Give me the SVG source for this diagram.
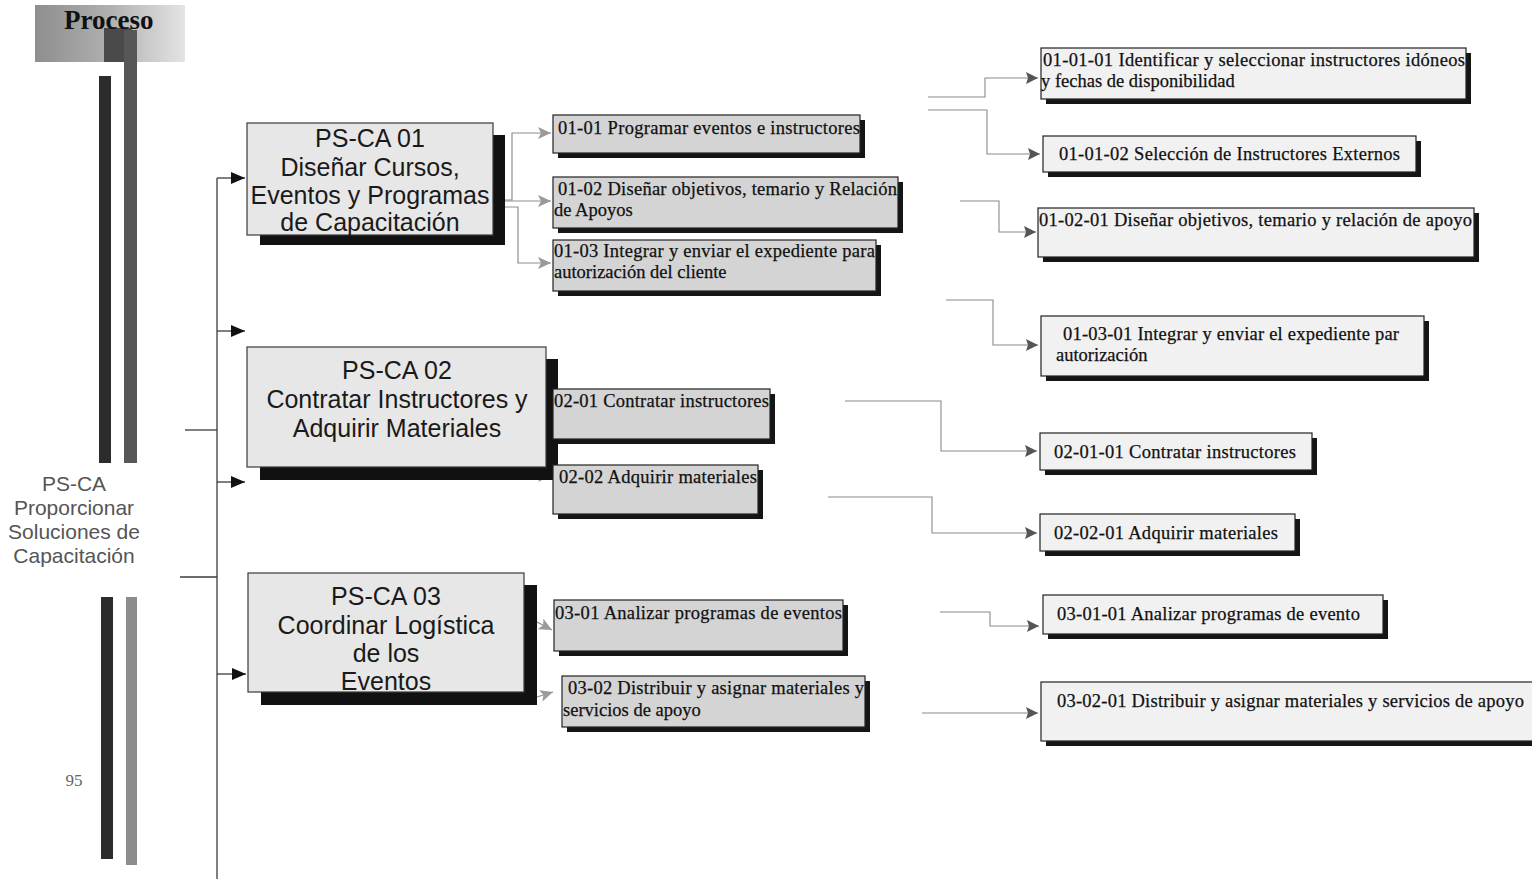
<svg xmlns="http://www.w3.org/2000/svg" width="1532" height="879" viewBox="0 0 1532 879">
  <defs>
    <linearGradient id="hdr" x1="0" y1="0" x2="1" y2="0">
      <stop offset="0" stop-color="#8e8e8e"/>
      <stop offset="0.5" stop-color="#b0b0b0"/>
      <stop offset="1" stop-color="#e4e4e4"/>
    </linearGradient>
    <marker id="ah-main" markerUnits="userSpaceOnUse" markerWidth="14" markerHeight="12" refX="14" refY="6" orient="auto">
      <path d="M0,0 L14,6 L0,12 Z" fill="#111"/>
    </marker>
    <marker id="ah-sub" markerUnits="userSpaceOnUse" markerWidth="13" markerHeight="12" refX="13" refY="6" orient="auto">
      <path d="M0,0 L13,6 L0,12 L3,6 Z" fill="#9a9a9a"/>
    </marker>
    <marker id="ah-leaf" markerUnits="userSpaceOnUse" markerWidth="12" markerHeight="12" refX="12" refY="6" orient="auto">
      <path d="M0,0 L12,6 L0,12 L2,6 Z" fill="#555"/>
    </marker>
  </defs>
  <style>
    .main-box { fill: #e7e7e7; stroke: #3a3a3a; stroke-width: 1.2; }
    .main-shadow { fill: #111; }
    .main-text { font-family: "Liberation Sans", Arial, sans-serif; font-size: 25px; fill: #1a1a1a; text-anchor: middle; }
    .sub-box { fill: #d4d4d4; stroke: #222; stroke-width: 1.2; }
    .leaf-box { fill: #f1f1f1; stroke: #222; stroke-width: 1.2; }
    .box-shadow { fill: #151515; }
    .txt { font-family: "Liberation Serif", "Times New Roman", serif; font-size: 18.5px; fill: #111; stroke: #111; stroke-width: 0.25; }
    .side { font-family: "Liberation Sans", Arial, sans-serif; font-size: 21px; fill: #555; text-anchor: middle; }
    .main-link { fill: none; stroke: #3c3c3c; stroke-width: 1.3; }
    .sub-link { fill: none; stroke: #8e8e8e; stroke-width: 1.2; }
    .leaf-link { fill: none; stroke: #8a8a8a; stroke-width: 1.1; }
  </style>

  <rect width="1532" height="879" fill="#ffffff"/>

  <!-- page header and side bars -->
  <g id="header">
    <rect x="35" y="5" width="150" height="57" fill="url(#hdr)"/>
    <rect x="104" y="28" width="28" height="34" fill="#4a4a4a"/>
    <rect x="124" y="30" width="13" height="433" fill="#575757"/>
    <rect x="99" y="76" width="12" height="387" fill="#2c2c2c"/>
    <rect x="101" y="597" width="12" height="262" fill="#2c2c2c"/>
    <rect x="126" y="597" width="11" height="268" fill="#8c8c8c"/>
    <text x="64" y="29" font-family="'Liberation Serif', 'Times New Roman', serif" font-size="27" font-weight="bold" fill="#111">Proceso</text>
  </g>

  <g id="root-label">
    <text class="side" x="74" y="491">PS-CA</text>
    <text class="side" x="74" y="515">Proporcionar</text>
    <text class="side" x="74" y="539">Soluciones de</text>
    <text class="side" x="74" y="563">Capacitación</text>
  </g>

  <g id="page-number">
    <text x="74" y="786" font-family="'Liberation Serif', 'Times New Roman', serif" font-size="17" fill="#666" text-anchor="middle">95</text>
  </g>

  <!-- connectors -->
  <g id="connectors">
    <path class="main-link" d="M217 178 V879"/>
    <path class="main-link" d="M185 430 H217"/>
    <path class="main-link" d="M180 577 H217"/>
    <path class="main-link" d="M217 178 H245" marker-end="url(#ah-main)"/>
    <path class="main-link" d="M217 331 H245" marker-end="url(#ah-main)"/>
    <path class="main-link" d="M217 482 H245" marker-end="url(#ah-main)"/>
    <path class="main-link" d="M217 674 H246" marker-end="url(#ah-main)"/>

    <path class="sub-link" d="M493 200 H512 V133 H551" marker-end="url(#ah-sub)"/>
    <path class="sub-link" d="M493 201 H551" marker-end="url(#ah-sub)"/>
    <path class="sub-link" d="M493 207 H518 V263 H551" stroke="#b4b4b4" marker-end="url(#ah-sub)"/>
    <path class="sub-link" d="M490 419 H520 V387 H551" marker-end="url(#ah-sub)"/>
    <path class="sub-link" d="M505 432 H520 V476 H551" marker-end="url(#ah-sub)"/>
    <path class="sub-link" d="M537 622 L552 630" marker-end="url(#ah-sub)"/>
    <path class="sub-link" d="M537 697 L553 692" marker-end="url(#ah-sub)"/>

    <path class="leaf-link" d="M928 97 H985 V78 H1038" marker-end="url(#ah-leaf)"/>
    <path class="leaf-link" d="M928 110 H987 V154 H1040" marker-end="url(#ah-leaf)"/>
    <path class="leaf-link" d="M960 201 H999 V232 H1036" marker-end="url(#ah-leaf)"/>
    <path class="leaf-link" d="M946 300 H993 V345 H1038" marker-end="url(#ah-leaf)"/>
    <path class="leaf-link" d="M845 401 H941 V451 H1037" marker-end="url(#ah-leaf)"/>
    <path class="leaf-link" d="M828 497 H932 V533 H1037" marker-end="url(#ah-leaf)"/>
    <path class="leaf-link" d="M940 612 H990 V626 H1039" marker-end="url(#ah-leaf)"/>
    <path class="leaf-link" d="M922 713 H1038" stroke="#555" marker-end="url(#ah-leaf)"/>
  </g>

  <!-- level 1 processes -->
  <g id="ps-ca-01">
    <rect class="main-shadow" x="260" y="135" width="245" height="110"/>
    <rect class="main-box" x="247" y="123" width="246" height="112"/>
    <text class="main-text" x="370" y="147">PS-CA 01</text>
    <text class="main-text" x="370" y="176">Diseñar Cursos,</text>
    <text class="main-text" x="370" y="204">Eventos y Programas</text>
    <text class="main-text" x="370" y="231">de Capacitación</text>
  </g>

  <g id="ps-ca-02">
    <rect class="main-shadow" x="260" y="359" width="298" height="121"/>
    <rect class="main-box" x="247" y="347" width="299" height="120"/>
    <text class="main-text" x="397" y="379">PS-CA 02</text>
    <text class="main-text" x="397" y="408">Contratar Instructores y</text>
    <text class="main-text" x="397" y="437">Adquirir Materiales</text>
  </g>

  <g id="ps-ca-03">
    <rect class="main-shadow" x="261" y="585" width="276" height="120"/>
    <rect class="main-box" x="248" y="573" width="276" height="119"/>
    <text class="main-text" x="386" y="605">PS-CA 03</text>
    <text class="main-text" x="386" y="634">Coordinar Logística</text>
    <text class="main-text" x="386" y="662">de los</text>
    <text class="main-text" x="386" y="690">Eventos</text>
  </g>

  <!-- level 2 activities -->
  <g id="act-01-01">
    <rect class="box-shadow" x="558" y="120" width="307" height="38"/>
    <rect class="sub-box" x="553" y="115" width="307" height="38"/>
    <text class="txt" x="558" y="134" textLength="302">01-01 Programar eventos e instructores</text>
  </g>
  <g id="act-01-02">
    <rect class="box-shadow" x="558" y="182" width="345" height="51"/>
    <rect class="sub-box" x="553" y="177" width="345" height="51"/>
    <text class="txt" x="558" y="195" textLength="339">01-02 Diseñar objetivos, temario y Relación</text>
    <text class="txt" x="554" y="216">de Apoyos</text>
  </g>
  <g id="act-01-03">
    <rect class="box-shadow" x="558" y="245" width="323" height="51"/>
    <rect class="sub-box" x="553" y="240" width="323" height="51"/>
    <text class="txt" x="554" y="257" textLength="321">01-03 Integrar y enviar el expediente para</text>
    <text class="txt" x="554" y="278">autorización del cliente</text>
  </g>
  <g id="act-02-01">
    <rect class="box-shadow" x="558" y="394" width="217" height="50"/>
    <rect class="sub-box" x="553" y="389" width="217" height="50" fill="#e4e4e4"/>
    <text class="txt" x="554" y="407" textLength="215">02-01 Contratar instructores</text>
  </g>
  <g id="act-02-02">
    <rect class="box-shadow" x="558" y="470" width="205" height="49"/>
    <rect class="sub-box" x="553" y="465" width="205" height="49" fill="#ececec"/>
    <text class="txt" x="559" y="483" textLength="198">02-02 Adquirir materiales</text>
  </g>
  <g id="act-03-01">
    <rect class="box-shadow" x="559" y="605" width="289" height="51"/>
    <rect class="sub-box" x="554" y="600" width="289" height="51"/>
    <text class="txt" x="555" y="619" textLength="287">03-01 Analizar programas de eventos</text>
  </g>
  <g id="act-03-02">
    <rect class="box-shadow" x="567" y="681" width="303" height="51"/>
    <rect class="sub-box" x="562" y="676" width="303" height="51"/>
    <text class="txt" x="568" y="694" textLength="296">03-02 Distribuir y asignar materiales y</text>
    <text class="txt" x="563" y="716">servicios de apoyo</text>
  </g>

  <!-- level 3 tasks -->
  <g id="task-01-01-01">
    <rect class="box-shadow" x="1046" y="53" width="425" height="51"/>
    <rect class="leaf-box" x="1041" y="48" width="425" height="51"/>
    <text class="txt" x="1043" y="66" textLength="422">01-01-01 Identificar y seleccionar instructores idóneos</text>
    <text class="txt" x="1041" y="87">y fechas de disponibilidad</text>
  </g>
  <g id="task-01-01-02">
    <rect class="box-shadow" x="1048" y="141" width="373" height="36"/>
    <rect class="leaf-box" x="1043" y="136" width="373" height="36"/>
    <text class="txt" x="1059" y="160" textLength="341">01-01-02 Selección de Instructores Externos</text>
  </g>
  <g id="task-01-02-01">
    <rect class="box-shadow" x="1043" y="213" width="436" height="49"/>
    <rect class="leaf-box" x="1038" y="208" width="436" height="49"/>
    <text class="txt" x="1039" y="226" textLength="433">01-02-01 Diseñar objetivos, temario y relación de apoyo</text>
  </g>
  <g id="task-01-03-01">
    <rect class="box-shadow" x="1046" y="321" width="383" height="60"/>
    <rect class="leaf-box" x="1041" y="316" width="383" height="60"/>
    <text class="txt" x="1063" y="340" textLength="336">01-03-01 Integrar y enviar el expediente par</text>
    <text class="txt" x="1056" y="361">autorización</text>
  </g>
  <g id="task-02-01-01">
    <rect class="box-shadow" x="1045" y="438" width="272" height="37"/>
    <rect class="leaf-box" x="1040" y="433" width="272" height="37"/>
    <text class="txt" x="1054" y="458" textLength="242">02-01-01 Contratar instructores</text>
  </g>
  <g id="task-02-02-01">
    <rect class="box-shadow" x="1045" y="519" width="255" height="37"/>
    <rect class="leaf-box" x="1040" y="514" width="255" height="37"/>
    <text class="txt" x="1054" y="539" textLength="224">02-02-01 Adquirir materiales</text>
  </g>
  <g id="task-03-01-01">
    <rect class="box-shadow" x="1048" y="600" width="340" height="39"/>
    <rect class="leaf-box" x="1043" y="595" width="340" height="39"/>
    <text class="txt" x="1057" y="620" textLength="303">03-01-01 Analizar programas de evento</text>
  </g>
  <g id="task-03-02-01">
    <rect class="box-shadow" x="1046" y="687" width="491" height="59"/>
    <rect class="leaf-box" x="1041" y="682" width="500" height="59"/>
    <text class="txt" x="1057" y="707" textLength="467">03-02-01 Distribuir y asignar materiales y servicios de apoyo</text>
  </g>
</svg>
